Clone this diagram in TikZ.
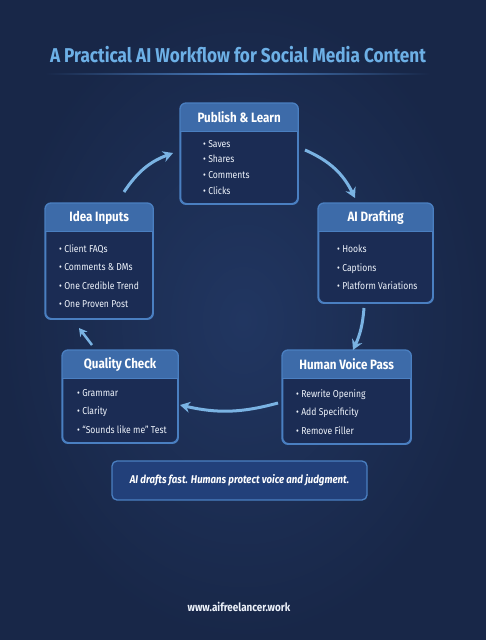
\documentclass[tikz,border=0pt]{standalone}
\usepackage{fontspec}
\setmainfont{Fira Sans}[FakeStretch=0.86]
\usetikzlibrary{arrows.meta}

\definecolor{bgdark}{HTML}{182748}
\definecolor{bgmid}{HTML}{213661}
\definecolor{bodyfill}{HTML}{1B2C54}
\definecolor{headfill}{HTML}{3D6BA9}
\definecolor{cardline}{HTML}{4A7FC1}
\definecolor{titleblue}{HTML}{6DB0E6}
\definecolor{arrowblue}{HTML}{7AB3E3}
\definecolor{bannerfill}{HTML}{22407A}
\definecolor{itemwhite}{HTML}{EEF3FB}

\tikzset{
  card/.style={draw=cardline, line width=1.3pt, fill=bodyfill, rounded corners=6pt, inner sep=0pt},
  headtext/.style={text=white, font=\bfseries\fontsize{13.5}{15}\selectfont},
  itemtext/.style={text=itemwhite, align=left, inner sep=0pt, anchor=north west},
  flow/.style={arrowblue, line width=3pt, -{Stealth[length=10pt,width=11pt]}}
}

\begin{document}
\begin{tikzpicture}[x=1pt,y=-1pt]
% background
\shade[inner color=bgmid, outer color=bgdark] (0,0) rectangle (486,640);
\useasboundingbox (0,0) rectangle (486,640);

% title
\node[text=titleblue, font=\bfseries\fontsize{20}{24}\selectfont] (title) at (238,55) {A Practical AI Workflow for Social Media Content};
\shade[left color=bgdark, right color=bgdark, middle color=cardline] (45,73.5) rectangle (430,74.5);

% cards
\foreach \n/\x/\y/\w/\h/\t in {
  pub/180/103/117/100/{Publish \& Learn},
  idea/45/203/107/115/{Idea Inputs},
  ai/318/203/114/99/{AI Drafting},
  qc/62/350/115/92/{Quality Check},
  hv/282/350/128/93/{Human Voice Pass}}
{
  \node[card, minimum width=\w, minimum height=\h, anchor=north west] (\n) at (\x,\y) {};
  \begin{scope}
    \clip[rounded corners=6pt] (\n.north west) rectangle (\n.south east);
    \fill[headfill] (\n.north west) rectangle ([yshift=-28]\n.north east);
  \end{scope}
  \draw[cardline, line width=1pt] ([yshift=-28]\n.north west) -- ([yshift=-28]\n.north east);
  \draw[cardline, line width=1.3pt, rounded corners=6pt] (\n.north west) rectangle (\n.south east);
  \node[headtext] (\n-head) at ([yshift=-14.5]\n.north) {\t};
}

% card items
\node[itemtext, font=\fontsize{10}{15.6}\selectfont] (pub-items) at (203,140) {\textbullet\ Saves\\\textbullet\ Shares\\\textbullet\ Comments\\\textbullet\ Clicks};
\node[itemtext, font=\fontsize{10}{18.6}\selectfont] (idea-items) at (59,244) {\textbullet\ Client FAQs\\\textbullet\ Comments \& DMs\\\textbullet\ One Credible Trend\\\textbullet\ One Proven Post};
\node[itemtext, font=\fontsize{10}{18.6}\selectfont] (ai-items) at (337,245) {\textbullet\ Hooks\\\textbullet\ Captions\\\textbullet\ Platform Variations};
\node[itemtext, font=\fontsize{10}{18.6}\selectfont] (qc-items) at (77,389) {\textbullet\ Grammar\\\textbullet\ Clarity\\\textbullet\ “Sounds like me” Test};
\node[itemtext, font=\fontsize{10}{18.6}\selectfont] (hv-items) at (296,389) {\textbullet\ Rewrite Opening\\\textbullet\ Add Specificity\\\textbullet\ Remove Filler};

% arrows between cards
\coordinate (idea-out) at (124,192);
\coordinate (pub-in) at (173,153);
\coordinate (pub-out) at (305,150);
\coordinate (ai-in) at (355,198);
\coordinate (ai-out) at (364,308);
\coordinate (hv-in) at (353,350);
\coordinate (hv-out) at (278,403);
\coordinate (qc-in) at (180,405);
\coordinate (qc-out) at (92,345);
\coordinate (idea-in) at (79,328);
\draw[flow] (idea-out) to[bend left=18] (pub-in);
\draw[flow] (pub-out) to[bend left=20] (ai-in);
\draw[flow] (ai-out) to[bend left=10] (hv-in);
\draw[flow] (hv-out) to[bend left=14] (qc-in);
\draw[flow, line width=2.5pt, -{Stealth[length=8pt,width=9pt]}] (qc-out) -- (idea-in);

% banner
\node[draw=cardline, line width=1.3pt, fill=bannerfill, rounded corners=5pt, minimum width=255, minimum height=39, text=white, font=\bfseries\itshape\fontsize{11.2}{13}\selectfont] (banner) at (239.5,480.5) {AI drafts fast. Humans protect voice and judgment.};

% footer
\node[text=itemwhite, font=\bfseries\fontsize{11.5}{13}\selectfont] (url) at (239,607) {www.aifreelancer.work};
\end{tikzpicture}
\end{document}
